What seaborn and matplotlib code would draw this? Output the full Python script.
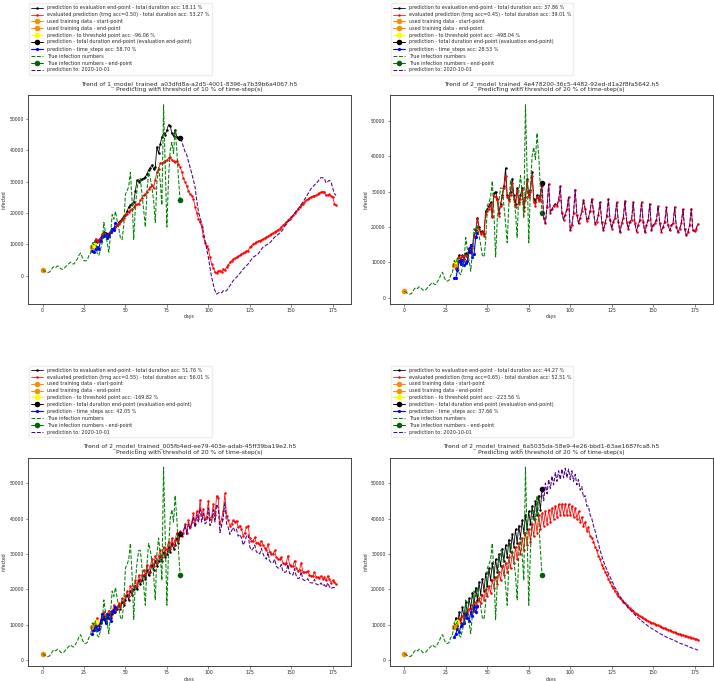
import numpy as np
import matplotlib
matplotlib.use("Agg")
import matplotlib.pyplot as plt
import seaborn as sns

# True infection numbers, days 0..83 (same for all four runs)
true_cases = [
    1800, 1500, 1200, 1000, 1100, 1600, 2500, 2900, 2600, 3100,
    2800, 2200, 2000, 2300, 2900, 3400, 3900, 4300, 3800, 3700,
    4600, 5300, 6600, 7200, 5800, 4800, 4700, 5000, 6400, 7100,
    10500, 9800, 11000, 7000, 6500, 8500, 10500, 17000, 13500, 10500,
    7500, 13000, 19500, 18000, 20500, 17500, 15000, 12000, 11500, 16000,
    26000, 27000, 28500, 33000, 24000, 11500, 22000, 27500, 31000, 31000,
    26000, 21000, 15500, 27000, 33000, 31000, 28000, 24000, 17000, 30000,
    34500, 30000, 22500, 54500, 35000, 15500, 31000, 40000, 42500, 39000,
    46500, 40000, 31000, 24000]

train_start = 1800   # day 0
train_end = 9300     # day 30
first_day = 30       # predictions start here
end_day = 83         # evaluation end-point

# ---- run 1 (top left)
tl_black = [
    9600, 10500, 11200, 10800, 11500, 12000, 12800, 13900, 13500, 13200,
    13400, 14200, 14800, 15200, 15500, 16200, 17000, 17500, 18200, 19000,
    19500, 20500, 21900, 22500, 23000, 23500, 27000, 30400, 30000, 30400,
    30800, 31000, 31500, 32500, 33700, 34500, 35300, 34000, 34700, 41100,
    39000, 42000, 44300, 45400, 44900, 46500, 48100, 47800, 45400, 44500,
    46500, 44300, 44000, 43800]
tl_red = [
    9100, 10500, 11800, 11200, 11000, 12000, 13400, 13500, 13000, 12800,
    13500, 14000, 14500, 15000, 15500, 16000, 16600, 17200, 17800, 18500,
    19200, 19800, 20300, 20800, 21300, 21800, 22400, 22700, 23000, 24000,
    24800, 25600, 26000, 26700, 27500, 28200, 28800, 28000, 30500, 33100,
    34000, 35800, 36000, 36300, 36500, 36900, 37500, 37900, 37000, 36500,
    36300, 36600, 35500, 34700, 33000, 31000, 30000, 28500, 27000, 26000,
    25500, 24600, 22000, 20000, 18200, 17000, 15500, 12500, 10500, 9500,
    8500, 6000, 3700, 2500, 1100, 800, 1500, 1600, 1200, 2100,
    1800, 2700, 3500, 4200, 4800, 5200, 5500, 5900, 6200, 6500,
    6900, 7200, 7500, 7800, 8000, 9000, 9500, 10100, 10300, 10600,
    10900, 11200, 11400, 11700, 12000, 12300, 12600, 13000, 13300, 13600,
    14000, 14300, 14700, 15000, 15500, 16000, 16600, 17100, 17600, 18200,
    18700, 19200, 19900, 20500, 21200, 21900, 22400, 23000, 23500, 24000,
    24400, 24800, 25100, 25300, 25500, 25600, 26000, 26400, 26700, 26800,
    26700, 25600, 25700, 25900, 25500, 25100, 23000, 22400]
tl_pred = [
    43800, 42800, 41000, 39500, 38500, 36500, 34500, 32600, 30500, 28300,
    24000, 20500, 18500, 16600, 14000, 11200, 8500, 5900, 2500, -500,
    -2800, -4800, -5900, -5500, -5300, -5500, -4800, -5000, -4800, -4000,
    -3200, -2400, -1600, -1000, -500, 0, 700, 1400, 2100, 2600,
    3200, 3700, 4400, 5200, 5900, 6200, 6600, 6900, 7600, 8400,
    9100, 9400, 9800, 10100, 10400, 11000, 11700, 12300, 12700, 13100,
    13500, 13900, 14800, 15700, 16600, 17200, 17900, 18500, 19200, 19900,
    20500, 21200, 21900, 22700, 23500, 24300, 25100, 26000, 26900, 27800,
    28300, 28900, 29400, 30000, 30700, 31300, 31200, 31000, 29600, 30000,
    30400, 29900, 28000, 26200, 25600]
tl_blue = [8000, 7500, 8500, 9000, 8500, 11200, 12300, 12800, 13400, 12000,
           12500, 13900, 15000, 14600, 16800]
tl_thr = (31, 9800)

# ---- run 2 (top right)
tr_black = [
    9600, 8500, 11000, 12000, 10500, 12000, 11000, 12500, 12000, 14000,
    13000, 14500, 17500, 19000, 22500, 20000, 18500, 18800, 18000, 24500,
    25000, 26000, 27000, 23000, 29500, 30000, 28000, 24000, 26500, 29000,
    31500, 36600, 29000, 28000, 30000, 33600, 29000, 26500, 31000, 27000,
    29000, 31000, 25500, 28500, 33500, 29000, 30500, 35400, 28000, 27000,
    29000, 28000, 29000, 32300]
tr_red = [
    9000, 8000, 10500, 11500, 10000, 11800, 10500, 12000, 11500, 13300,
    12500, 14000, 17100, 18500, 22300, 19500, 18000, 18500, 17500, 23700,
    24500, 25100, 26500, 22700, 28800, 28400, 27500, 23200, 26000, 28400,
    31000, 34500, 28400, 27400, 29000, 32500, 28000, 25600, 30300, 26500,
    28000, 30300, 24600, 27500, 33100, 28400, 30000, 34500, 27000, 26000,
    28400, 27400, 28000, 31500, 22500, 21000, 25500, 32100, 24000, 25000,
    26000, 26500, 26000, 27500, 31500, 24000, 22000, 23500, 25000, 28500,
    19000, 20500, 24000, 30500, 23500, 21000, 22500, 24500, 27600, 25000,
    21800, 22500, 24500, 28000, 24500, 20900, 21500, 23500, 27000, 21500,
    19000, 21000, 23000, 27900, 22000, 19500, 21500, 22500, 27000, 21500,
    18500, 21000, 22500, 27300, 21500, 19500, 21500, 22000, 27000, 21000,
    18700, 20500, 22000, 27000, 21500, 18500, 20500, 22000, 26500, 19000,
    20500, 21000, 22000, 25800, 21000, 18700, 20000, 21500, 25500, 20500,
    19000, 20500, 21000, 25600, 20000, 18500, 19500, 21000, 25000, 19500,
    17600, 18500, 20500, 25100, 19000, 18800, 19500, 20900]
# the forecast runs on top of the evaluated prediction after day 83
tr_pred = [32300] + tr_red[54:]
tr_blue = [5600, 5500, 7700, 10500, 9400, 10700, 9100, 9800, 10500, 12900,
           15000, 11500, 12400, 17100, 18200]
tr_thr = (31, 10500)

# ---- run 3 (bottom left)
bl_black = [
    8500, 9500, 9000, 10500, 9500, 10500, 11500, 12500, 11000, 12000,
    13000, 12000, 13000, 14500, 13500, 14500, 15500, 14500, 16500, 15500,
    17000, 18500, 17000, 19500, 18500, 20000, 21000, 20000, 22500, 21500,
    22500, 24000, 23000, 25500, 24000, 25000, 27000, 25500, 28000, 26500,
    28000, 29500, 28000, 30500, 29000, 30000, 32000, 30500, 33000, 31500,
    32500, 34500, 33000, 35600]
bl_red = [
    9000, 10500, 9500, 12000, 9800, 11000, 12500, 13500, 11500, 12800,
    14000, 12500, 13500, 15500, 14000, 15000, 16000, 15000, 17500, 16000,
    18000, 19500, 18000, 21000, 19500, 21000, 22500, 21000, 24000, 22500,
    24000, 25500, 24000, 27000, 25000, 26500, 28500, 26500, 29500, 27500,
    29500, 31000, 29000, 32000, 30000, 31500, 33500, 31500, 34500, 32500,
    34000, 36000, 34000, 36500, 35000, 36000, 38500, 36000, 39500, 37500,
    39000, 41500, 38500, 42000, 40000, 45200, 41000, 42700, 40000, 40500,
    45000, 40000, 40500, 44100, 41000, 46400, 45800, 38400, 40000, 42200,
    47100, 40800, 39500, 38000, 38500, 39500, 39000, 39400, 37500, 38000,
    37000, 35100, 36000, 37500, 38000, 34500, 33700, 33700, 34700, 33000,
    33200, 32500, 33700, 32500, 31800, 31000, 32800, 30500, 30000, 29900,
    31000, 29000, 28500, 28500, 29000, 27500, 27100, 27500, 29500, 27000,
    26600, 26500, 28100, 26000, 25200, 25500, 27500, 25000, 24800, 24800,
    25200, 24000, 23800, 23800, 24800, 23500, 23400, 23200, 23800, 23000,
    23400, 22500, 23800, 22800, 21900, 22500, 22000, 21500]
bl_pred = [
    35600, 35500, 36500, 38000, 35500, 38500, 37000, 38500, 40500, 37500,
    41000, 39000, 43000, 39000, 41500, 38500, 39000, 43000, 38000, 39000,
    42500, 39000, 44000, 43000, 36000, 38000, 40500, 44500, 38500, 37500,
    35500, 36500, 37500, 36500, 37000, 35000, 35500, 34500, 32500, 33500,
    35000, 35500, 32000, 31000, 31500, 32500, 30500, 30500, 30000, 31500,
    30000, 29000, 28500, 30500, 28000, 27500, 27500, 28500, 26500, 26000,
    26000, 27000, 25000, 24800, 25000, 27000, 24500, 24300, 24000, 25800,
    23800, 23000, 23200, 25000, 22800, 22500, 22500, 23000, 22000, 21800,
    21800, 22800, 21500, 21300, 21200, 21800, 21000, 21300, 20500, 21800,
    20800, 20200, 20500, 20500, 20200]
bl_blue = [7300, 8500, 9700, 8500, 8800, 11000, 13000, 11500, 10600, 13000,
           12000, 11100, 13900, 13500, 14900]
bl_thr = (32, 10800)

# ---- run 4 (bottom right)
br_black = [
    9500, 12000, 9500, 13500, 10500, 15000, 12000, 16500, 13000, 17500,
    14500, 19000, 15500, 20500, 17000, 22000, 18500, 23000, 19500, 24500,
    21000, 26000, 22500, 27500, 23500, 28500, 25000, 30000, 26500, 31500,
    28000, 32500, 29000, 34000, 30500, 35500, 32000, 37000, 33000, 38000,
    34500, 39500, 36000, 41000, 37000, 42000, 38500, 43500, 40000, 45000,
    41000, 46500, 42500, 48300]
br_red = [
    9000, 10500, 9500, 11500, 10500, 12500, 11000, 13500, 12000, 14500,
    13000, 15500, 14000, 16500, 15000, 17500, 16000, 18500, 17000, 20000,
    18000, 21000, 19000, 22500, 20500, 23500, 21500, 25000, 22500, 26500,
    24000, 27500, 25000, 29000, 26000, 30500, 27500, 32000, 28500, 33000,
    30000, 34500, 31000, 36000, 32500, 37000, 33500, 38500, 35000, 40000,
    36000, 41000, 37000, 41500, 38000, 42000, 38500, 42500, 39000, 43000,
    40000, 43500, 40500, 44000, 41000, 44200, 41000, 44200, 41000, 44000,
    41000, 43500, 40500, 43000, 40000, 42000, 39000, 40500, 38000, 39000,
    36500, 37500, 35000, 34500, 33500, 32000, 31000, 29500, 28500, 27000,
    26000, 25000, 24000, 23000, 22000, 21000, 20300, 19500, 18800, 18200,
    17500, 17000, 16500, 16000, 15500, 15000, 14600, 14200, 13800, 13400,
    13000, 12700, 12400, 12100, 11800, 11500, 11300, 11000, 10800, 10600,
    10400, 10200, 10000, 9800, 9600, 9400, 9200, 9000, 8800, 8600,
    8400, 8200, 8000, 7800, 7700, 7500, 7400, 7200, 7100, 6900,
    6800, 6600, 6500, 6300, 6200, 6000, 5900, 5800]
br_pred = [
    48300, 45000, 50000, 47000, 51000, 48500, 52000, 49500, 53000, 50500,
    53500, 51000, 54000, 51500, 54200, 51500, 54000, 51000, 53500, 50500,
    52500, 49500, 51000, 48000, 49000, 46000, 46500, 43500, 43500, 41000,
    40000, 38000, 36500, 34500, 33000, 31000, 29500, 28000, 26800, 25600,
    24500, 23500, 22500, 21500, 20500, 19700, 18800, 18000, 17300, 16600,
    16000, 15400, 14800, 14300, 13800, 13300, 12800, 12300, 11900, 11500,
    11100, 10700, 10300, 10000, 9600, 9300, 9000, 8700, 8400, 8100,
    7800, 7500, 7300, 7000, 6800, 6500, 6300, 6100, 5900, 5700,
    5500, 5300, 5000, 4800, 4600, 4500, 4300, 4100, 3900, 3700,
    3500, 3300, 3200, 3000, 2800]
br_blue = [6400, 7500, 8800, 7800, 9500, 10100, 10600, 13000, 11800, 11100,
           13500, 12500, 14900, 13500, 15300]
br_thr = (32, 10800)

models = ['1_model_trained_a03dfd8a-a2d5-4001-8396-a7b39b6a4067.h5',
          '2_model_trained_4e478200-36c5-4482-92ed-d1a2f8fa5642.h5',
          '2_model_trained_005fb4ed-ee79-403e-adab-45ff39ba19e2.h5',
          '2_model_trained_6a5035da-58e9-4e26-bbd1-63ae1687fca8.h5']
thresholds = [10, 20, 20, 20]
acc_eval = ['18.11', '37.86', '51.76', '44.27']
trng_acc = ['0.50', '0.45', '0.55', '0.65']
acc_total = ['53.27', '39.01', '56.01', '52.51']
acc_thr = ['-96.06', '-498.04', '-169.82', '-223.56']
acc_steps = ['58.70', '28.53', '42.05', '37.66']
pred_date = '2020-10-01'

runs = [(tl_black, tl_red, tl_pred, tl_blue, tl_thr),
        (tr_black, tr_red, tr_pred, tr_blue, tr_thr),
        (bl_black, bl_red, bl_pred, bl_blue, bl_thr),
        (br_black, br_red, br_pred, br_blue, br_thr)]

sns.set_style("ticks")
plt.rcParams['font.family'] = ['DejaVu Sans']

fig, axes = plt.subplots(2, 2, figsize=(7.14, 6.81), dpi=100)
fig.subplots_adjust(left=0.039, right=0.998, bottom=0.022, top=0.86,
                    wspace=0.121, hspace=0.74)

big = dict(marker='o', markersize=4, linestyle='-', linewidth=0.7, markeredgewidth=0)

for i, ax in enumerate(axes.flat):
    black, red, pred, blue, thr = runs[i]
    d_black = np.arange(first_day, first_day + len(black))
    d_red = np.arange(first_day, first_day + len(red))
    d_blue = np.arange(first_day, first_day + len(blue))
    d_pred = np.arange(end_day, end_day + len(pred))
    d_true = np.arange(0, len(true_cases))

    sns.lineplot(x=d_black, y=black, ax=ax, color='black', marker='o', markersize=1.8,
                 markeredgewidth=0, linewidth=0.6, sort=False, errorbar=None,
                 label='prediction to evaluation end-point - total duration acc: %s %%' % acc_eval[i])
    sns.lineplot(x=d_red, y=red, ax=ax, color='red', marker='o', markersize=1.8,
                 markeredgewidth=0, linewidth=0.55, sort=False, errorbar=None,
                 label='evaluated prediction (trng acc=%s) - total duration acc: %s %%' % (trng_acc[i], acc_total[i]))
    ax.plot([0], [train_start], color='darkorange', label='used training data - start-point', **big)
    ax.plot([first_day], [train_end], color='darkorange', label='used training data - end-point', **big)
    ax.plot([thr[0]], [thr[1]], color='yellow', label='prediction - to threshold point acc: %s %%' % acc_thr[i], **big)
    ax.plot([end_day], [black[-1]], color='black',
            label='prediction - total duration end-point (evaluation end-point)', **big)
    sns.lineplot(x=d_blue, y=blue, ax=ax, color='blue', marker='o', markersize=2.3,
                 markeredgewidth=0, linewidth=0.8, sort=False, errorbar=None,
                 label='prediction - time_steps acc: %s %%' % acc_steps[i])
    sns.lineplot(x=d_true, y=true_cases, ax=ax, color='green', linestyle='--', linewidth=0.75,
                 sort=False, errorbar=None, label='True infection numbers')
    ax.plot([end_day], [true_cases[-1]], color='darkgreen',
            label='True infection numbers - end-point', **big)
    sns.lineplot(x=d_pred, y=pred, ax=ax, color='indigo', linestyle='--', linewidth=0.75,
                 sort=False, errorbar=None, label='prediction to: %s' % pred_date)

    ax.set_title('Trend of %s\nPredicting with threshold of %d %% of time-step(s)' % (models[i], thresholds[i]),
                 fontsize=4.3, pad=3, linespacing=1.1)
    ax.set_xlabel('days', fontsize=3.3, labelpad=1)
    ax.set_ylabel('infected', fontsize=3.3, labelpad=1.5)
    ax.set_xticks([0, 25, 50, 75, 100, 125, 150, 175])
    ax.tick_params(labelsize=3.3, length=1.8, width=0.4, pad=1.2)
    for s in ax.spines.values():
        s.set_linewidth(0.7)
        s.set_color('#444444')
    ax.legend(loc='lower left', bbox_to_anchor=(0.004, 1.1), fontsize=3.5,
              handlelength=2.4, handletextpad=0.8, borderaxespad=0, labelspacing=0.37,
              framealpha=1, edgecolor='#eeeeee', borderpad=0.45)

fig.savefig('out.png', dpi=100)
